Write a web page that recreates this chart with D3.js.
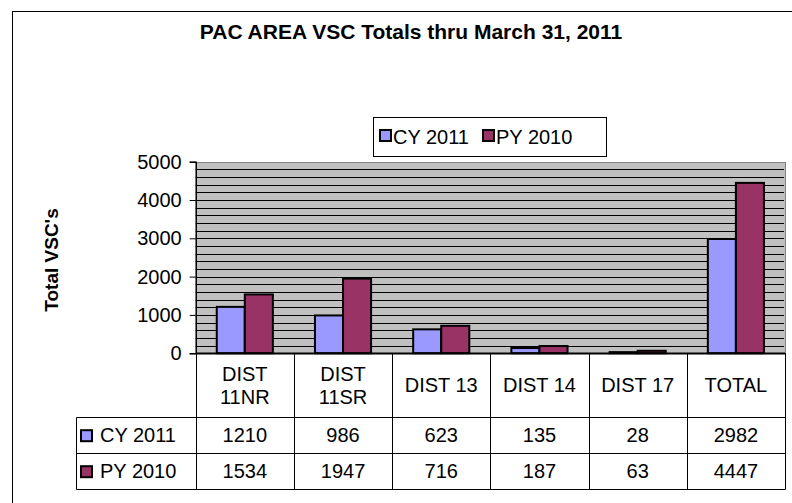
<!DOCTYPE html>
<html>
<head>
<meta charset="utf-8">
<script src="https://cdn.jsdelivr.net/npm/d3@7"></script>
<style>
  body { margin: 0; background: #fff; }
  text { font-family: "Liberation Sans", Arial, sans-serif; fill: #000; }
</style>
</head>
<body>
<svg id="chart" width="792" height="503"></svg>
<script>
// data
var categories = ["DIST 11NR", "DIST 11SR", "DIST 13", "DIST 14", "DIST 17", "TOTAL"];
var seriesNames = ["CY 2011", "PY 2010"];
var cy2011 = [1210, 986, 623, 135, 28, 2982];
var py2010 = [1534, 1947, 716, 187, 63, 4447];
var yTicks = [0, 1000, 2000, 3000, 4000, 5000];
var colors = ["#9999FF", "#993366"];

var values = [cy2011, py2010];

var svg = d3.select("#chart");
var crisp = v => Math.round(v) + 0.5;

// outer chart frame (runs off the right and bottom)
svg.append("rect")
    .attr("x", 12.5).attr("y", 11.5)
    .attr("width", 800).attr("height", 520)
    .attr("fill", "#fff").attr("stroke", "#000").attr("stroke-width", 1);

var plotLeft = 195.7, plotRight = 785, plotTop = 161.7, plotBottom = 353.2;
var rowH = [64, 36, 36];   // header row, CY row, PY row
var legendColLeft = 76;

var x = d3.scaleBand()
    .domain(categories)
    .range([plotLeft, plotRight])
    .paddingInner(1.5 / 3.5)
    .paddingOuter(0.75 / 3.5);

var xs = d3.scaleBand()
    .domain(seriesNames)
    .range([0, x.bandwidth()]);

var y = d3.scaleLinear()
    .domain([0, 5000])
    .range([plotBottom, plotTop]);

// plot area
svg.append("rect")
    .attr("x", crisp(plotLeft)).attr("y", crisp(plotTop))
    .attr("width", Math.round(plotRight - plotLeft)).attr("height", Math.round(plotBottom - plotTop))
    .attr("fill", "#C0C0C0").attr("stroke", "#808080").attr("stroke-width", 1);

// minor gridlines every 200
svg.append("g")
    .selectAll("line")
    .data(d3.range(200, 5000, 200))
    .enter()
    .append("line")
    .attr("x1", plotLeft).attr("x2", plotRight - 1)
    .attr("y1", d => crisp(y(d))).attr("y2", d => crisp(y(d)))
    .attr("stroke", "#000").attr("stroke-width", 1);

// bars
var groups = svg.append("g")
    .selectAll("g")
    .data(seriesNames)
    .enter()
    .append("g")
    .attr("fill", (d, i) => colors[i]);

groups.selectAll("rect")
    .data((s, si) => categories.map((c, ci) => ({ s: s, c: c, v: values[si][ci] })))
    .enter()
    .append("rect")
    .attr("x", d => x(d.c) + xs(d.s))
    .attr("y", d => y(d.v))
    .attr("width", xs.bandwidth())
    .attr("height", d => plotBottom - y(d.v))
    .attr("stroke", "#000").attr("stroke-width", 2);

// y axis
var yAxis = d3.axisLeft(y)
    .tickValues(yTicks)
    .tickSize(6)
    .tickPadding(8)
    .tickFormat(d3.format("d"));

var ag = svg.append("g")
    .attr("transform", "translate(" + plotLeft + ",0)")
    .call(yAxis);
ag.select(".domain").attr("stroke", "#000").attr("stroke-width", 1.5);
ag.selectAll(".tick line").attr("stroke", "#000");
ag.selectAll(".tick text")
    .attr("font-size", 20)
    .attr("font-family", "'Liberation Sans', Arial, sans-serif")
    .attr("fill", "#000");

// axis title
svg.append("text")
    .attr("transform", "translate(58,260) rotate(-90)")
    .attr("text-anchor", "middle")
    .attr("font-size", 19)
    .attr("font-weight", "bold")
    .text("Total VSC's");

// chart title
svg.append("text")
    .attr("x", 411).attr("y", 39)
    .attr("text-anchor", "middle")
    .attr("font-size", 21)
    .attr("font-weight", "bold")
    .text("PAC AREA VSC Totals thru March 31, 2011");

// legend
var lg = svg.append("g");
lg.append("rect")
    .attr("x", 373.5).attr("y", 117.5)
    .attr("width", 233).attr("height", 39)
    .attr("fill", "#fff").attr("stroke", "#000").attr("stroke-width", 1);
var legendX = [380, 483];
seriesNames.forEach(function (s, i) {
  lg.append("rect")
      .attr("x", legendX[i]).attr("y", 130)
      .attr("width", 11).attr("height", 11)
      .attr("fill", colors[i]).attr("stroke", "#000").attr("stroke-width", 2);
  lg.append("text")
      .attr("x", legendX[i] + 13).attr("y", 144)
      .attr("font-size", 20)
      .text(s);
});

// data table
var tg = svg.append("g");
var yHead = plotBottom, yRow1 = plotBottom + rowH[0], yRow2 = yRow1 + rowH[1], yEnd = yRow2 + rowH[2];
var colEdges = categories.map(c => x(c) - x.step() * x.paddingInner() / 2).concat([plotRight]);

// verticals between categories
tg.selectAll("line.col")
    .data(colEdges)
    .enter()
    .append("line")
    .attr("x1", d => crisp(d)).attr("x2", d => crisp(d))
    .attr("y1", yHead).attr("y2", crisp(yEnd))
    .attr("stroke", "#000").attr("stroke-width", 1);

// horizontal lines
[yRow1, yRow2, yEnd].forEach(function (ly) {
  tg.append("line")
      .attr("x1", crisp(legendColLeft)).attr("x2", crisp(plotRight))
      .attr("y1", crisp(ly)).attr("y2", crisp(ly))
      .attr("stroke", "#000").attr("stroke-width", 1);
});
tg.append("line")
    .attr("x1", crisp(legendColLeft)).attr("x2", crisp(legendColLeft))
    .attr("y1", crisp(yRow1)).attr("y2", crisp(yEnd))
    .attr("stroke", "#000").attr("stroke-width", 1);
// category axis line
tg.append("line")
    .attr("x1", plotLeft).attr("x2", plotRight)
    .attr("y1", plotBottom).attr("y2", plotBottom)
    .attr("stroke", "#000").attr("stroke-width", 1.5);

// header labels
categories.forEach(function (c) {
  var cx = x(c) + x.bandwidth() / 2;
  var lines = c.length > 8 ? [c.slice(0, c.indexOf(" ")), c.slice(c.indexOf(" ") + 1)] : [c];
  var t = tg.append("text")
      .attr("text-anchor", "middle")
      .attr("font-size", 20);
  lines.forEach(function (l, li) {
    t.append("tspan")
        .attr("x", cx)
        .attr("y", yHead + rowH[0] / 2 + 7 + (li - (lines.length - 1) / 2) * 23)
        .text(l);
  });
});

// value rows
var rowTops = [yRow1, yRow2];
seriesNames.forEach(function (s, si) {
  var ry = rowTops[si] + rowH[si + 1] / 2 + 7;
  tg.append("rect")
      .attr("x", legendColLeft + 5).attr("y", ry - 12)
      .attr("width", 11).attr("height", 11)
      .attr("fill", colors[si]).attr("stroke", "#000").attr("stroke-width", 2);
  tg.append("text")
      .attr("x", legendColLeft + 24).attr("y", ry)
      .attr("font-size", 20)
      .text(s);
  categories.forEach(function (c, ci) {
    tg.append("text")
        .attr("x", x(c) + x.bandwidth() / 2)
        .attr("y", ry)
        .attr("text-anchor", "middle")
        .attr("font-size", 20)
        .text(values[si][ci]);
  });
});
</script>
</body>
</html>
